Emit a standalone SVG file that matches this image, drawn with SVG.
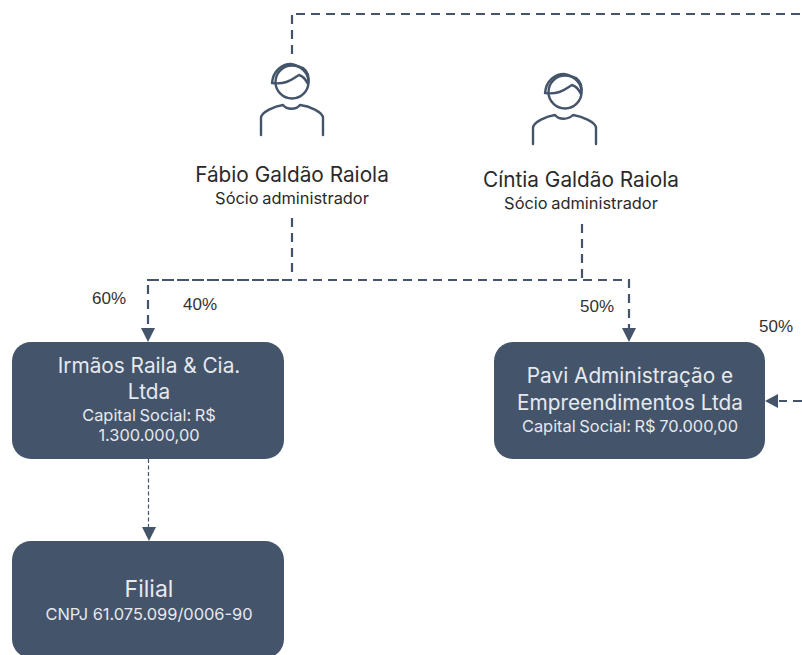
<svg xmlns="http://www.w3.org/2000/svg" width="802" height="655" viewBox="0 0 802 655">
<style>
.conn{fill:none;stroke:#44546a;stroke-width:2.2;stroke-dasharray:9 6}
.dense{fill:none;stroke:#44546a;stroke-width:2.2;stroke-dasharray:12 3}
.thin{fill:none;stroke:#44546a;stroke-width:1.2;stroke-dasharray:4 2.5}
.head{fill:#44546a}
.box{fill:#44546a}
.icon{fill:none;stroke:#44546a;stroke-width:2.4;stroke-linecap:round;stroke-linejoin:round}
text{font-family:Inter,"Noto Sans","Liberation Sans",sans-serif;text-anchor:middle}
.big{font-size:20.800px}
.small{font-size:16.400px;word-spacing:-1px}
.wb{fill:#e6e9ee}
.k{fill:#2a2a2a}
.pct{font-family:"Liberation Sans",Arial,sans-serif;font-size:17px;fill:#333}
</style>
<rect width="802" height="655" fill="#fff"/>
<g id="connectors">
<path class="conn" d="M292 54V15"/>
<path class="conn" d="M296 14H802"/>
<path class="conn" d="M292 218V272"/>
<path class="dense" d="M147 280H292"/>
<path class="conn" d="M298 280H629V328"/>
<path class="conn" d="M148 285V328"/>
<path class="conn" d="M582 224V278"/>
<path class="conn" d="M802 401H779"/>
<path class="thin" d="M148.500 459V528"/>
<polygon class="head" points="141,328 155,328 148,342"/>
<polygon class="head" points="622,328 636,328 629,342"/>
<polygon class="head" points="765,401 778,394 778,408"/>
<polygon class="head" points="142,527 156,527 149,541"/>
</g>
<g id="person-fabio">
<circle class="icon" cx="292" cy="82" r="16.500"/>
<path class="icon" d="M272 83C273 71 282 64 291 64C296 64 300 68 303 68C307 71 310 76 308 84C306 80 303 76 299 75C293 78 288 85 272 83Z"/>
<path class="icon" d="M261 135V118C261 112 275 106 283 105C287 110 296 110 300 105C309 106 323 112 323 118V135"/>
<text x="292" y="182" class="k big">Fábio Galdão Raiola</text>
<text x="292" y="204" class="k small">Sócio administrador</text>
</g>
<g id="person-cintia">
<circle class="icon" cx="565" cy="92" r="16.500"/>
<path class="icon" d="M545 93C546 81 555 74 564 74C569 74 573 78 576 78C580 81 583 86 581 94C579 90 576 86 572 85C566 88 561 95 545 93Z"/>
<path class="icon" d="M533 144V128C533 122 547 116 555 115C559 120 568 120 573 115C581 116 596 122 596 128V144"/>
<text x="581" y="187" class="k big">Cíntia Galdão Raiola</text>
<text x="581" y="209" class="k small">Sócio administrador</text>
</g>
<g id="labels">
<text x="109" y="304" class="pct">60%</text>
<text x="200" y="310" class="pct">40%</text>
<text x="597" y="312" class="pct">50%</text>
<text x="776" y="332" class="pct">50%</text>
</g>
<g id="irmaos">
<rect class="box" x="12" y="342" width="272" height="117" rx="19"/>
<text x="149" y="373" class="wb big">Irmãos Raila &amp; Cia.</text>
<text x="149" y="399" class="wb big">Ltda</text>
<text x="149" y="421" class="wb small">Capital Social: R$</text>
<text x="149" y="441" class="wb small">1.300.000,00</text>
</g>
<g id="pavi">
<rect class="box" x="494" y="342" width="271" height="117" rx="19"/>
<text x="630" y="383" class="wb big">Pavi Administração e</text>
<text x="630" y="410" class="wb big">Empreendimentos Ltda</text>
<text x="630" y="432" class="wb small">Capital Social: R$ 70.000,00</text>
</g>
<g id="filial">
<rect class="box" x="12" y="541" width="272" height="117" rx="19"/>
<text x="149" y="597" class="wb" font-size="23">Filial</text>
<text x="149" y="620" class="wb" font-size="16.400">CNPJ 61.075.099/0006-90</text>
</g>
</svg>
